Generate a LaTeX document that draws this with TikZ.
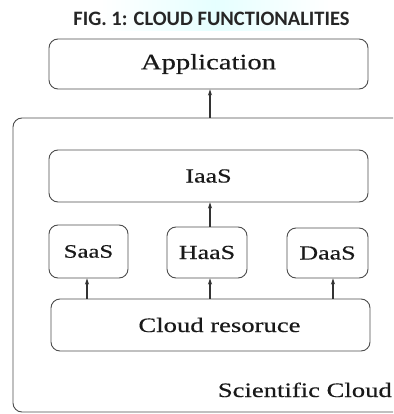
\documentclass[tikz,border=0pt]{standalone}
\usepackage{fontspec}
\setmainfont{Liberation Serif}[FakeStretch=1.3, FakeBold=0.35]
\newfontfamily\titlefont{Carlito}
\usetikzlibrary{arrows.meta}
\definecolor{linegray}{gray}{0.3}
\definecolor{textgray}{gray}{0.1}
\tikzset{
  box/.style={draw=linegray, line width=0.9pt, rounded corners=9pt,
              text=textgray, font=\fontsize{20}{22}\selectfont, inner sep=0pt},
  arr/.style={draw=black!80, line width=1.1pt, -{Stealth[length=6pt,width=4pt]}},
}
\begin{document}
\begin{tikzpicture}[x=1pt, y=-1pt]
  \useasboundingbox (0,0) rectangle (393,414);
  % soft highlight behind the caption
  \shade[left color=white, right color=white, middle color=cyan!10]
    (100,0) rectangle (330,31);
  \node[font=\titlefont\bfseries\fontsize{20.5}{22}\selectfont, text=black!85]
    (title) at (211.5,19) {FIG. 1: CLOUD FUNCTIONALITIES};

  \begin{scope}
    \clip (0,0) rectangle (393,414);
    % outer container, running past the right and bottom edges
    \node[box, minimum width=407pt, minimum height=294pt] (sci) at (216.5,265) {};
  \end{scope}

  \node[box, minimum width=319pt, minimum height=50pt, font=\fontsize{22}{24}\selectfont]
    (app) at (208.5,64) {Application};
  \node[box, minimum width=319pt, minimum height=52pt] (iaas) at (208.5,176) {IaaS};
  \node[box, minimum width=79pt, minimum height=53pt, font=\fontsize{19}{21}\selectfont]
    (saas) at (88.5,251.5) {SaaS};
  \node[box, minimum width=80pt, minimum height=51pt] (haas) at (207,252.5) {HaaS};
  \node[box, minimum width=81pt, minimum height=50pt] (daas) at (327.5,253) {DaaS};
  \node[box, minimum width=319pt, minimum height=52pt, font=\fontsize{20.5}{22}\selectfont]
    (cr) at (210.5,325) {\hspace*{18pt}Cloud resoruce};
  \node[text=textgray, font=\fontsize{20.5}{22}\selectfont, anchor=base east, inner sep=0pt]
    (scilabel) at (392,397) {Scientific Cloud};

  % upward flow between layers
  \draw[arr] ([xshift=1.5pt]app.south |- sci.north) -- ([xshift=1.5pt]app.south);
  \draw[arr] ([xshift=3pt]haas.north) -- ([xshift=3pt]haas.north |- iaas.south);
  \draw[arr] ([xshift=-1.5pt]saas.south |- cr.north) -- ([xshift=-1.5pt]saas.south);
  \draw[arr] ([xshift=3pt]haas.south |- cr.north) -- ([xshift=3pt]haas.south);
  \draw[arr] ([xshift=5.5pt]daas.south |- cr.north) -- ([xshift=5.5pt]daas.south);
\end{tikzpicture}
\end{document}
